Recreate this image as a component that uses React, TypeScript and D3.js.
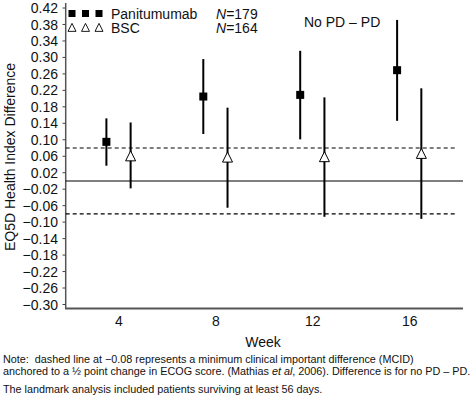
import React from "react";
import * as d3 from "d3";

const weeks = [4, 8, 12, 16];
const panMean = [0.095, 0.205, 0.209, 0.269];
const panLow = [0.037, 0.114, 0.101, 0.146];
const panHigh = [0.152, 0.296, 0.316, 0.391];
const bscMean = [0.059, 0.056, 0.057, 0.065];
const bscLow = [-0.018, -0.065, -0.087, -0.092];
const bscHigh = [0.142, 0.178, 0.203, 0.225];
const yTicks = [-0.3, -0.26, -0.22, -0.18, -0.14, -0.1, -0.06, -0.02, 0.02, 0.06, 0.1, 0.14, 0.18, 0.22, 0.26, 0.3, 0.34, 0.38, 0.42];
const mcid = 0.08;
const nPan = 179;
const nBsc = 164;

const W = 476;
const H = 414;
const FONT = "'Liberation Sans', Arial, Helvetica, sans-serif";

export default function App() {
  const x = d3.scaleLinear().domain([1.8, 18.2]).range([65.7, 463]);
  const y = d3.scaleLinear().domain([-0.3, 0.42]).range([304.5, 8]);
  const fmt = (v: number) => {
    const s = Math.abs(v).toFixed(2);
    return v < 0 ? "\u2212" + s : s;
  };
  const panOff = -0.52;
  const bscOff = 0.48;
  const triPath = (cx: number, cy: number, s: number) =>
    `M${cx},${cy - s * 0.58}L${cx + s / 2},${cy + s * 0.42}L${cx - s / 2},${cy + s * 0.42}Z`;

  return (
    <svg width={W} height={H} style={{ position: "absolute", left: 0, top: 0, background: "#fff" }} fontFamily={FONT}>
      {/* axes */}
      <line x1={x.range()[0]} x2={x.range()[0]} y1={3} y2={308.5} stroke="#555" strokeWidth={1.5} />
      <line x1={x.range()[0] - 0.7} x2={x.range()[1]} y1={308.5} y2={308.5} stroke="#555" strokeWidth={2} />
      {yTicks.map((t) => (
        <g key={t}>
          <line x1={62.5} x2={65.7} y1={y(t)} y2={y(t)} stroke="#444" strokeWidth={1} />
          <text x={58} y={y(t)} dy="0.36em" textAnchor="end" fontSize={14} fill="#111">
            {fmt(t)}
          </text>
        </g>
      ))}
      {weeks.map((w) => (
        <text key={w} x={x(w)} y={325.5} textAnchor="middle" fontSize={14} fill="#111">
          {w}
        </text>
      ))}
      <text x={263} y={347} textAnchor="middle" fontSize={14} fill="#111">Week</text>
      <text transform="translate(15,157) rotate(-90)" textAnchor="middle" fontSize={14} fill="#111">
        EQ5D Health Index Difference
      </text>

      {/* reference lines */}
      <line x1={x.range()[0]} x2={x.range()[1]} y1={y(0)} y2={y(0)} stroke="#000" strokeWidth={1.1} />
      <line x1={x.range()[0]} x2={457.5} y1={y(mcid)} y2={y(mcid)} stroke="#000" strokeWidth={1.1} strokeDasharray="4,3" />
      <line x1={x.range()[0]} x2={457.5} y1={y(-mcid)} y2={y(-mcid)} stroke="#000" strokeWidth={1.1} strokeDasharray="4,3" />

      {/* panitumumab */}
      {weeks.map((w, i) => (
        <g key={"p" + w}>
          <line x1={x(w + panOff)} x2={x(w + panOff)} y1={y(panLow[i])} y2={y(panHigh[i])} stroke="#000" strokeWidth={2} />
          <rect x={x(w + panOff) - 4} y={y(panMean[i]) - 4} width={8} height={8} fill="#000" />
        </g>
      ))}
      {/* BSC */}
      {weeks.map((w, i) => (
        <g key={"b" + w}>
          <line x1={x(w + bscOff)} x2={x(w + bscOff)} y1={y(bscLow[i])} y2={y(bscHigh[i])} stroke="#000" strokeWidth={2} />
          <path d={triPath(x(w + bscOff), y(bscMean[i]), 10)} fill="#fff" stroke="#000" strokeWidth={1} />
        </g>
      ))}

      {/* legend */}
      {[72, 85.5, 99].map((cx) => (
        <rect key={"ls" + cx} x={cx - 3.5} y={10} width={7} height={7} fill="#000" />
      ))}
      {[72, 85.5, 99].map((cx) => (
        <path key={"lt" + cx} d={triPath(cx, 28, 8)} fill="#fff" stroke="#000" strokeWidth={0.9} />
      ))}
      <text x={111} y={18.5} fontSize={14} fill="#111">Panitumumab</text>
      <text x={111} y={33} fontSize={14} fill="#111">BSC</text>
      <text x={216} y={18.5} fontSize={14} fill="#111">
        <tspan fontStyle="italic">N</tspan>={nPan}
      </text>
      <text x={216} y={33} fontSize={14} fill="#111">
        <tspan fontStyle="italic">N</tspan>={nBsc}
      </text>
      <text x={304} y={27} fontSize={14} fill="#111">No PD – PD</text>

      {/* notes */}
      <text x={3} y={363} fontSize={10.8} fill="#111">
        {"Note:\u00a0 dashed line at \u22120.08 represents a minimum clinical important difference (MCID)"}
      </text>
      <text x={3} y={374.5} fontSize={10.8} fill="#111">
        anchored to a ½ point change in ECOG score. (Mathias <tspan fontStyle="italic">et al</tspan>, 2006). Difference is for no PD – PD.
      </text>
      <text x={3} y={392.5} fontSize={10.8} fill="#111">
        The landmark analysis included patients surviving at least 56 days.
      </text>
    </svg>
  );
}
